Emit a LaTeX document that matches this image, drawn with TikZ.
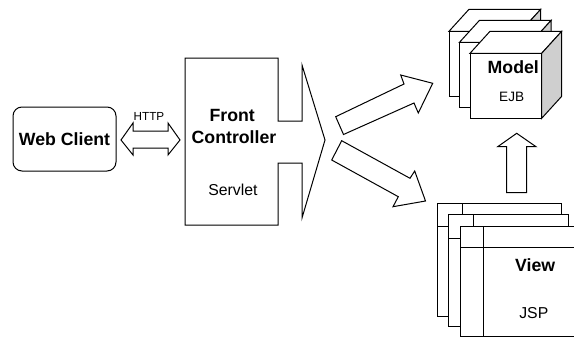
\documentclass[tikz,border=0pt]{standalone}
\usepackage{fontspec}
\setmainfont{Liberation Sans}
\definecolor{sidegray}{HTML}{CFCFCF}

% one 3-D box of the model stack: front-top-left corner, fixed size and depth
\newcommand\modelcube[2]{%
  \filldraw[outline] (#1,#2) rectangle ++(71.7,65);
  \filldraw[outline] (#1,#2) -- ++(20,-22) -- ++(71.7,0) -- ++(-20,22) -- cycle;
  \filldraw[side] ({#1+71.7},#2) -- ++(20,-22) -- ++(0,65) -- ++(-20,22) -- cycle;
}
% one page of the view stack: left, top, right, bottom, divider x, header y
\newcommand\viewpane[6]{%
  \filldraw[outline] (#1,#2) rectangle (#3,#4);
  \draw (#5,#2) -- (#5,#4);
  \draw (#1,#6) -- (#3,#6);
}

\begin{document}
\begin{tikzpicture}[x=1pt,y=-1pt,line width=1pt,line join=miter,
  outline/.style={draw=black,fill=white},
  side/.style={draw=black,fill=sidegray},
  blockarrow/.style={draw=black,fill=white},
  bigbold/.style={font=\fontsize{17.7}{20}\selectfont\bfseries,inner sep=0pt,anchor=base},
  plaintext/.style={font=\fontsize{15.8}{18}\selectfont,inner sep=0pt,anchor=base},
  smalltext/.style={font=\fontsize{11.7}{13}\selectfont,inner sep=0pt,anchor=base}]
\useasboundingbox (0,0) rectangle (574,338);

% web client
\node[draw=black,rounded corners=9pt,minimum width=103pt,minimum height=64pt,
  inner sep=0pt] (client) at (64.5,139) {};
\node[bigbold] (clienttext) at (64.5,145) {Web Client};

% HTTP double arrow
\filldraw[blockarrow] (121,140) -- (133,123) -- (133,131) -- (168,131) -- (168,123)
  -- (180,140) -- (168,155) -- (168,148) -- (133,148) -- (133,155) -- cycle;
\node[smalltext] (http) at (149,120.5) {HTTP};

% front controller with its notched, pointed right side
\filldraw[outline] (185,58) -- (278,58) -- (278,121) -- (302,121) -- (302,65)
  -- (325,140) -- (302,218) -- (302,163) -- (278,163) -- (278,225) -- (185,225) -- cycle;
\node[bigbold] (front) at (232.2,121.7) {Front};
\node[bigbold] (ctrl) at (234,143.3) {Controller};
\node[plaintext] (servlet) at (233,195) {Servlet};

% arrows leaving the controller
\filldraw[blockarrow] (335.7,116.7) -- (404,84) -- (400.7,75) -- (432.7,83.3)
  -- (418.3,113) -- (414,103) -- (343.5,134.5) -- cycle;
\filldraw[blockarrow] (341.7,140.7) -- (410,178.3) -- (414.7,171) -- (425.5,201)
  -- (393,206.7) -- (398.3,196.7) -- (331.7,160) -- cycle;

% model: three stacked boxes
\modelcube{449}{31.3}
\modelcube{459.5}{42.3}
\modelcube{470}{53.3}
\node[bigbold] (model) at (513.3,73.3) {Model};
\node[plaintext,font=\fontsize{13.6}{16}\selectfont] (ejb) at (511.7,101.7) {EJB};

% arrow from view up to model
\filldraw[blockarrow] (506.7,192.7) -- (506.7,146.7) -- (497.7,146.7) -- (516.7,133.3)
  -- (536,146.7) -- (526.7,146.7) -- (526.7,192.7) -- cycle;

% view: three stacked pages
\viewpane{437.3}{203.3}{561.7}{316.7}{462.3}{226.7}
\viewpane{448.3}{214}{568.3}{326.7}{473.3}{238.3}
\viewpane{460}{226}{600}{336.5}{483.3}{247.3}
\node[bigbold] (view) at (535.2,271.7) {View};
\node[plaintext] (jsp) at (533.8,318.3) {JSP};
\end{tikzpicture}
\end{document}
